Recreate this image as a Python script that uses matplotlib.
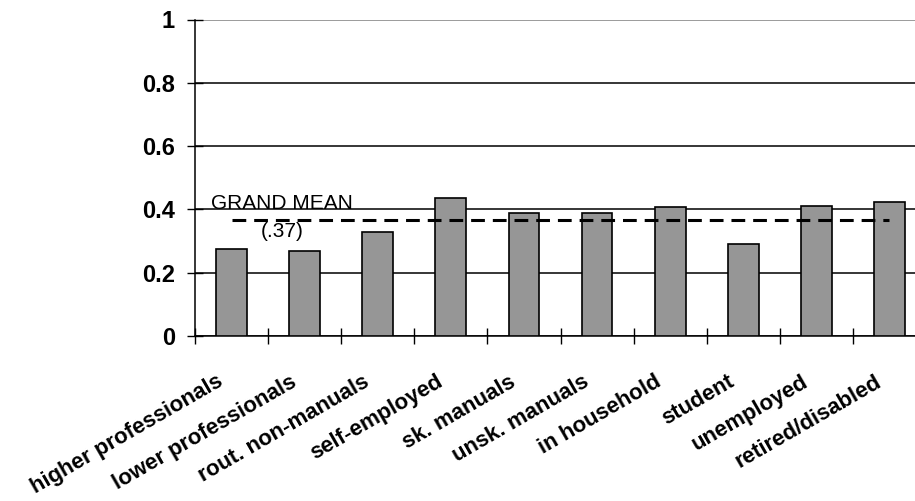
"""
Share of respondents by occupational class, with the grand mean as a dashed line.
"""

import numpy as np
import matplotlib
matplotlib.use('Agg')
import matplotlib.pyplot as plt
from matplotlib.transforms import ScaledTranslation

# data
categories = ['higher professionals', 'lower professionals', 'rout. non-manuals',
    'self-employed', 'sk. manuals', 'unsk. manuals', 'in household',
    'student', 'unemployed', 'retired/disabled']
values = np.array([0.275, 0.27, 0.33, 0.435, 0.39, 0.39, 0.407, 0.29, 0.41,
    0.422])
grand_mean = 0.366
mean_label = ['GRAND MEAN', '(.37)']
yticks = [0, 0.2, 0.4, 0.6, 0.8, 1]
ytick_labels = ['0', '0.2', '0.4', '0.6', '0.8', '1']

# PLOTTING
plt.rcParams['font.family'] = ['Liberation Sans', 'DejaVu Sans']
fs = 15 # primary fontsize
W, H, dpi = 915, 501, 100
plt.close('all')

fig = plt.figure(figsize=(W/dpi, H/dpi), dpi=dpi)
# plot area runs past the right edge of the picture, as in the original
ax = fig.add_axes([195/W, (H-336)/H, (926-195)/W, (336-19.5)/H])

x = np.arange(len(categories))
ax.bar(x, values, width=0.42, color='#969696', edgecolor='black',
    linewidth=1.2, zorder=3)
ax.plot([x[0], x[-1]], [grand_mean, grand_mean], color='black', lw=2.2,
    dashes=(4.5, 2.6), zorder=4)

ax.text(-0.285, 0.401, mean_label[0], fontsize=fs, va='baseline', ha='left',
    zorder=5)
ax.text(0.69, 0.313, mean_label[1], fontsize=fs, va='baseline', ha='center',
    zorder=5)

ax.set_xlim(-0.5, len(categories) - 0.5)
ax.set_ylim(0, 1)

# y axis
ax.set_yticks(yticks)
ax.set_yticklabels(ytick_labels, fontsize=fs+2, weight='bold')
ax.tick_params(axis='y', direction='inout', length=12, width=1, pad=8.5)
ax.yaxis.grid(True, color='black', linewidth=1.1)
ax.get_ygridlines()[-1].set_color('#808080')
ax.set_axisbelow(True)

# x axis: ticks between categories, labels under categories
ax.set_xticks(np.arange(len(categories) + 1) - 0.5)
ax.set_xticklabels([])
ax.tick_params(axis='x', which='major', direction='inout', length=11, width=1)
ax.set_xticks(x, minor=True)
ax.set_xticklabels(categories, minor=True, fontsize=fs+1, weight='bold',
    rotation=30, ha='right', va='center', rotation_mode='anchor')
ax.tick_params(axis='x', which='minor', length=0, pad=32)
shift = ScaledTranslation(-10/dpi, 0, fig.dpi_scale_trans)
for lab in ax.get_xticklabels(minor=True):
    lab.set_transform(lab.get_transform() + shift)

for side in ['top', 'right']:
    ax.spines[side].set_visible(False)
for side in ['left', 'bottom']:
    ax.spines[side].set_linewidth(1.1)

fig.savefig('out.png', dpi=dpi)
